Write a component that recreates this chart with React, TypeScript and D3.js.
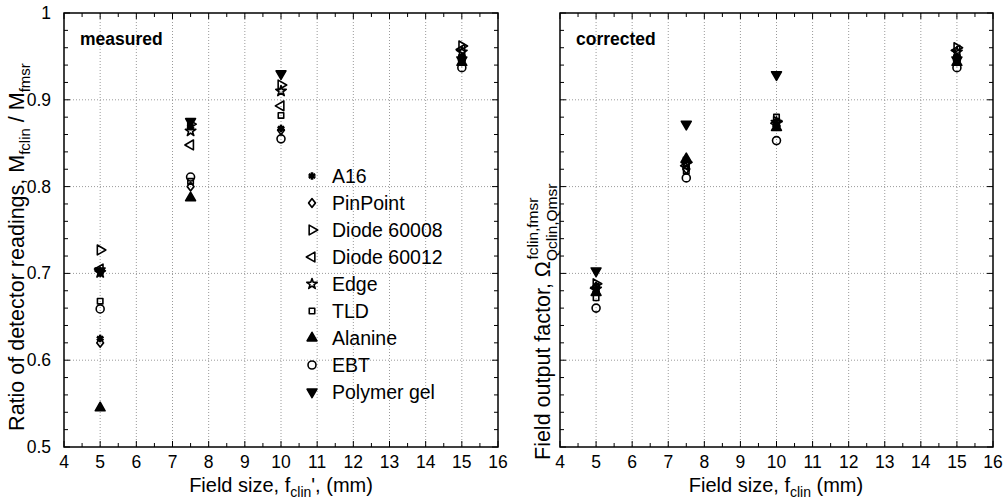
import * as d3 from "d3";

// detector order matches legend
const detectors = [
  "A16",
  "PinPoint",
  "Diode 60008",
  "Diode 60012",
  "Edge",
  "TLD",
  "Alanine",
  "EBT",
  "Polymer gel",
];
const markerTypes = [
  "burst",
  "diamond",
  "triRight",
  "triLeft",
  "star",
  "square",
  "triUp",
  "circle",
  "triDown",
];

const fieldSizes = [5, 7.5, 10, 15];

// measured ratios, one array per field size (detector order), null = no point
const measured5 = [0.625, 0.62, 0.727, 0.705, 0.701, 0.668, 0.545, 0.659, 0.703];
const measured7_5 = [0.869, 0.8, 0.872, 0.848, 0.864, 0.806, 0.787, 0.811, 0.875];
const measured10 = [0.867, 0.865, 0.917, 0.893, 0.91, 0.882, null, 0.855, 0.93];
const measured15 = [0.95, 0.945, 0.962, 0.958, 0.955, 0.948, 0.943, 0.937, 0.946];

// corrected field output factors
const corrected5 = [0.68, 0.685, 0.688, 0.683, 0.682, 0.672, 0.678, 0.66, 0.703];
const corrected7_5 = [0.83, 0.82, 0.828, 0.824, 0.826, 0.818, 0.832, 0.81, 0.872];
const corrected10 = [0.872, 0.87, 0.875, 0.873, 0.874, 0.88, 0.868, 0.853, 0.929];
const corrected15 = [0.95, 0.945, 0.96, 0.957, 0.955, 0.948, 0.943, 0.937, 0.946];

const measured = [measured5, measured7_5, measured10, measured15];
const corrected = [corrected5, corrected7_5, corrected10, corrected15];

const xTicks = d3.range(4, 17, 1);
const yTicks = [0.5, 0.6, 0.7, 0.8, 0.9, 1];

const top = 13;
const bottom = 447;
const font = '"Liberation Sans", Arial, Helvetica, sans-serif';

function markerPath(type: string) {
  const sym = d3.symbol();
  switch (type) {
    case "circle":
      return sym.type(d3.symbolCircle).size(50)();
    case "square":
      return sym.type(d3.symbolSquare).size(30)();
    case "diamond":
      return sym.type(d3.symbolSquare).size(26)();
    case "star":
      return sym.type(d3.symbolStar).size(34)();
    case "burst":
      return sym.type(d3.symbolAsterisk).size(40)();
    default:
      return sym.type(d3.symbolTriangle).size(42)();
  }
}

function markerTransform(type: string) {
  if (type === "diamond") return "scale(0.95,1.2) rotate(45)";
  if (type === "triRight") return "rotate(90)";
  if (type === "triLeft") return "rotate(-90)";
  if (type === "triDown") return "rotate(180)";
  return "";
}

function Marker({ type, x, y }: { type: string; x: number; y: number }) {
  const filled = type === "triUp" || type === "triDown";
  return (
    <path
      d={markerPath(type) as string}
      transform={`translate(${x},${y}) ${markerTransform(type)}`}
      fill={filled ? "#000" : "none"}
      stroke="#000"
      strokeWidth={type === "burst" ? 2.6 : 1.6}
      strokeLinejoin="round"
    />
  );
}

function Panel({
  left,
  right,
  values,
  label,
  yLabels,
}: {
  left: number;
  right: number;
  values: (number | null)[][];
  label: string;
  yLabels: boolean;
}) {
  const x = d3.scaleLinear().domain([4, 16]).range([left, right]);
  const y = d3.scaleLinear().domain([0.5, 1]).range([bottom, top]);
  const xMinor = d3.range(4, 16.01, 0.5);
  const yMinor = d3.range(0.5, 1.001, 0.02);

  return (
    <g>
      {/* grid */}
      {xTicks.slice(1, -1).map((t) => (
        <line
          key={"gx" + t}
          x1={x(t)}
          x2={x(t)}
          y1={top}
          y2={bottom}
          stroke="#9a9a9a"
          strokeWidth={1}
          strokeDasharray="1 2"
        />
      ))}
      {yTicks.slice(1, -1).map((t) => (
        <line
          key={"gy" + t}
          x1={left}
          x2={right}
          y1={y(t)}
          y2={y(t)}
          stroke="#9a9a9a"
          strokeWidth={1}
          strokeDasharray="1 2"
        />
      ))}
      {/* ticks on all four sides */}
      {xMinor.map((t) => {
        const len = Number.isInteger(t) ? 6 : 4;
        return (
          <g key={"mx" + t}>
            <line x1={x(t)} x2={x(t)} y1={bottom} y2={bottom - len} stroke="#000" />
            <line x1={x(t)} x2={x(t)} y1={top} y2={top + len} stroke="#000" />
          </g>
        );
      })}
      {yMinor.map((t, i) => {
        const len = i % 5 === 0 ? 6 : 4;
        return (
          <g key={"my" + i}>
            <line x1={left} x2={left + len} y1={y(t)} y2={y(t)} stroke="#000" />
            <line x1={right} x2={right - len} y1={y(t)} y2={y(t)} stroke="#000" />
          </g>
        );
      })}
      <rect
        x={left}
        y={top}
        width={right - left}
        height={bottom - top}
        fill="none"
        stroke="#000"
        strokeWidth={1.5}
      />
      {/* tick labels */}
      {xTicks.map((t) => (
        <text
          key={"lx" + t}
          x={x(t)}
          y={bottom + 21}
          textAnchor="middle"
          fontSize={17.5}
        >
          {t}
        </text>
      ))}
      {yLabels &&
        yTicks.map((t) => (
          <text
            key={"ly" + t}
            x={left - 13}
            y={y(t) + 6}
            textAnchor="end"
            fontSize={17.5}
          >
            {t === 1 ? "1" : t.toFixed(1)}
          </text>
        ))}
      <text x={left + 16} y={top + 32} fontSize={17.5} fontWeight={700}>
        {label}
      </text>
      {/* data */}
      {fieldSizes.map((fs, i) =>
        values[i].map((v, j) =>
          v == null ? null : (
            <Marker key={fs + "-" + j} type={markerTypes[j]} x={x(fs)} y={y(v)} />
          ),
        ),
      )}
    </g>
  );
}

export default function App() {
  const legendX = 312;
  const legendY = d3
    .scalePoint<string>()
    .domain(detectors)
    .range([176, 392]);

  return (
    <svg
      width={1006}
      height={500}
      fontFamily={font}
      style={{ position: "absolute", left: 0, top: 0, background: "#fff" }}
    >
      <Panel left={64} right={498} values={measured} label="measured" yLabels />
      <Panel left={560} right={993} values={corrected} label="corrected" yLabels={false} />

      {/* legend */}
      {detectors.map((d, i) => (
        <g key={d}>
          <Marker type={markerTypes[i]} x={legendX} y={legendY(d) as number} />
          <text x={legendX + 20} y={(legendY(d) as number) + 7} fontSize={19.5}>
            {d}
          </text>
        </g>
      ))}

      {/* x axis titles */}
      <text x={281} y={492} textAnchor="middle" fontSize={20}>
        Field size, f
        <tspan fontSize={14} dy={5}>clin</tspan>
        <tspan dy={-5}>', (mm)</tspan>
      </text>
      <text x={776} y={492} textAnchor="middle" fontSize={20}>
        Field size, f
        <tspan fontSize={14} dy={5}>clin</tspan>
        <tspan dy={-5}> (mm)</tspan>
      </text>

      {/* y axis titles */}
      <text
        transform="translate(24,247) rotate(-90)"
        textAnchor="middle"
        fontSize={21.5}
      >
        Ratio of detector readings, M
        <tspan fontSize={15} dy={6}>fclin</tspan>
        <tspan dy={-6}> / M</tspan>
        <tspan fontSize={15} dy={6}>fmsr</tspan>
      </text>
      <text transform="translate(550,460) rotate(-90)" fontSize={21.5}>
        Field output factor, Ω
        <tspan fontSize={15.5} dy={7}>Qclin,Qmsr</tspan>
        <tspan fontSize={15.5} dx={-76} dy={-19}>fclin,fmsr</tspan>
      </text>
    </svg>
  );
}
